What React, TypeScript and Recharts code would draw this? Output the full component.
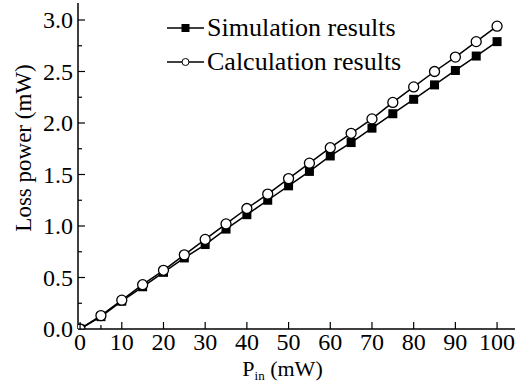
import { LineChart, Line, XAxis, YAxis, Legend, Label } from 'recharts'

const pin = [0, 5, 10, 15, 20, 25, 30, 35, 40, 45, 50, 55, 60, 65, 70, 75, 80, 85, 90, 95, 100]
const simulation = [0, 0.12, 0.27, 0.41, 0.55, 0.69, 0.82, 0.97, 1.11, 1.25, 1.39, 1.53, 1.68, 1.81, 1.95, 2.09, 2.23, 2.37, 2.51, 2.65, 2.79]
const calculation = [0, 0.13, 0.28, 0.43, 0.57, 0.72, 0.87, 1.02, 1.17, 1.31, 1.46, 1.61, 1.76, 1.9, 2.04, 2.2, 2.35, 2.5, 2.64, 2.79, 2.94]
const xTicks = [0, 5, 10, 15, 20, 25, 30, 35, 40, 45, 50, 55, 60, 65, 70, 75, 80, 85, 90, 95, 100]
const yTicks = [0, 0.25, 0.5, 0.75, 1, 1.25, 1.5, 1.75, 2, 2.25, 2.5, 2.75, 3]

const data = pin.map((p, i) => ({ pin: p, sim: simulation[i], calc: calculation[i] }))

const FONT = '"Liberation Serif", "Times New Roman", serif'

const XTick = (props: any) => {
  const { x, y, payload } = props
  const major = payload.value % 10 === 0
  return (
    <g>
      <line x1={x} x2={x} y1={y} y2={y - (major ? 7 : 4)} stroke="#000" strokeWidth={1.2} />
      {major && (
        <text x={x} y={y + 3} dy="0.75em" textAnchor="middle" fontSize={24} fontFamily={FONT} fill="#000">
          {payload.value}
        </text>
      )}
    </g>
  )
}

const YTick = (props: any) => {
  const { x, y, payload } = props
  const v = payload.value
  const major = Math.abs(v * 2 - Math.round(v * 2)) < 1e-9
  return (
    <g>
      <line x1={x} x2={x + (major ? 7 : 4)} y1={y} y2={y} stroke="#000" strokeWidth={1.2} />
      {major && (
        <text x={x - 5} y={y} dy="0.35em" textAnchor="end" fontSize={24} fontFamily={FONT} fill="#000">
          {v.toFixed(1)}
        </text>
      )}
    </g>
  )
}

const Square = (props: any) => {
  const { cx, cy } = props
  return <rect x={cx - 4.5} y={cy - 4.5} width={9} height={9} fill="#000" />
}

const Circle = (props: any) => {
  const { cx, cy } = props
  return <circle cx={cx} cy={cy} r={5} fill="#fff" stroke="#000" strokeWidth={1.3} />
}

const legendRows = [
  { name: 'Simulation results', marker: 'square' },
  { name: 'Calculation results', marker: 'circle' },
]

const renderLegend = () => (
  <div style={{ fontFamily: FONT, fontSize: 26, color: '#000' }}>
    {legendRows.map((r) => (
      <div key={r.name} style={{ display: 'flex', alignItems: 'center', height: 34 }}>
        <svg width={37} height={20}>
          <line x1={0} x2={37} y1={10} y2={10} stroke="#000" strokeWidth={1.5} />
          {r.marker === 'square' ? (
            <rect x={14.5} y={6} width={8} height={8} fill="#000" />
          ) : (
            <circle cx={18.5} cy={10} r={3.5} fill="#fff" stroke="#000" strokeWidth={1} />
          )}
        </svg>
        <span style={{ marginLeft: 3, whiteSpace: 'nowrap' }}>{r.name}</span>
      </div>
    ))}
  </div>
)

export default function App() {
  return (
    <div style={{ position: 'absolute', left: 0, top: 0, background: '#fff' }}>
      <LineChart width={517} height={387} data={data} margin={{ top: 3, right: 2, left: 0, bottom: 0 }}>
        <XAxis
          dataKey="pin"
          type="number"
          domain={[-0.5, 104.3]}
          ticks={xTicks}
          tick={<XTick />}
          tickLine={false}
          tickSize={0}
          tickMargin={0}
          height={58}
          axisLine={{ stroke: '#000', strokeWidth: 1.5 }}
          allowDataOverflow
        >
          <Label
            content={(p: any) => {
              const vb = p.viewBox
              return (
                <text x={vb.x + vb.width / 2 - 14} y={vb.y + 47} textAnchor="middle" fontFamily={FONT} fontSize={22} fill="#000">
                  P<tspan fontSize={13} dy={4}>in</tspan>
                  <tspan dy={-4}> (mW)</tspan>
                </text>
              )
            }}
          />
        </XAxis>
        <XAxis xAxisId="top" orientation="top" dataKey="pin" type="number" domain={[-0.5, 104.3]} height={0} tick={false} tickLine={false} axisLine={{ stroke: '#000', strokeWidth: 1.5 }} />
        <YAxis
          type="number"
          domain={[0, 3.165]}
          ticks={yTicks}
          tick={<YTick />}
          tickLine={false}
          tickSize={0}
          tickMargin={0}
          width={78}
          axisLine={{ stroke: '#000', strokeWidth: 1.5 }}
          allowDataOverflow
        >
          <Label
            content={(p: any) => {
              const vb = p.viewBox
              const cx = 23
              const cy = vb.y + vb.height / 2 - 18
              return (
                <text x={cx} y={cy} transform={`rotate(-90 ${cx} ${cy})`} textAnchor="middle" dominantBaseline="central" fontFamily={FONT} fontSize={23} fill="#000">
                  Loss power (mW)
                </text>
              )
            }}
          />
        </YAxis>
        <YAxis yAxisId="right" orientation="right" type="number" domain={[0, 3.165]} width={0} tick={false} tickLine={false} axisLine={{ stroke: '#000', strokeWidth: 1.5 }} />
        <Legend
          layout="vertical"
          align="center"
          verticalAlign="middle"
          content={renderLegend}
          wrapperStyle={{ position: 'absolute', left: 167, top: 11, width: 'auto' }}
        />
        <Line dataKey="sim" name="Simulation results" stroke="#000" strokeWidth={1.5} dot={<Square />} activeDot={false} isAnimationActive={false} />
        <Line dataKey="calc" name="Calculation results" stroke="#000" strokeWidth={1.5} dot={<Circle />} activeDot={false} isAnimationActive={false} />
      </LineChart>
    </div>
  )
}
